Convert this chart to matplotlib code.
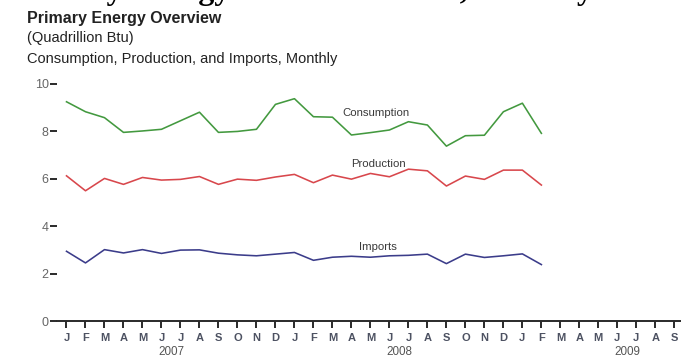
import matplotlib
matplotlib.use("Agg")
import matplotlib.pyplot as plt
import matplotlib.transforms as mtransforms

plt.rcParams['font.family'] = ['Liberation Sans', 'DejaVu Sans']

# ---- data (Quadrillion Btu), Jan 2007 .. Feb 2009 ----
consumption = [9.25, 8.83, 8.58, 7.96, 8.02, 8.09, 8.45, 8.81, 7.96, 8.00, 8.09, 9.14,
               9.38, 8.62, 8.60, 7.85, 7.95, 8.06, 8.41, 8.27, 7.38, 7.82, 7.84, 8.83,
               9.19, 7.92]
production = [6.13, 5.50, 6.02, 5.77, 6.06, 5.95, 5.98, 6.10, 5.77, 5.99, 5.94, 6.08,
              6.19, 5.84, 6.16, 5.99, 6.23, 6.09, 6.41, 6.34, 5.70, 6.12, 5.98, 6.37,
              6.37, 5.74]
imports = [2.95, 2.46, 3.02, 2.88, 3.02, 2.86, 3.00, 3.01, 2.87, 2.80, 2.76, 2.83,
           2.90, 2.57, 2.70, 2.74, 2.70, 2.76, 2.78, 2.83, 2.43, 2.83, 2.69, 2.76,
           2.84, 2.39]
month_letters = ['J', 'F', 'M', 'A', 'M', 'J', 'J', 'A', 'S', 'O', 'N', 'D']
years = ['2007', '2008', '2009']
tick_months = (month_letters * 3)[:33]
yticks = [0, 2, 4, 6, 8, 10]
series_names = ['Consumption', 'Production', 'Imports']

W, H = 681, 358
fig = plt.figure(figsize=(W / 100, H / 100), dpi=100)
y0_px, top_px = 321.3, 72.1
ax = fig.add_axes([57 / W, (H - y0_px) / H, (W - 57) / W, (y0_px - top_px) / H])

x = list(range(len(consumption)))
c_green = '#43993f'
c_red = '#d8474c'
c_navy = '#3b3c8a'
ax.plot(x, consumption, color=c_green, lw=1.15)
ax.plot(x, production, color=c_red, lw=1.15)
ax.plot(x, imports, color=c_navy, lw=1.15)

ax.set_xlim(-0.5, 32.35)
ax.set_ylim(0, 10.5)

for s in ['top', 'right', 'left']:
    ax.spines[s].set_visible(False)
ax.spines['bottom'].set_color('#2a2a2a')
ax.spines['bottom'].set_linewidth(1.4)

ax.set_yticks(yticks)
ax.set_yticklabels([str(v) for v in yticks])
ax.tick_params(axis='y', length=5, width=1.4, color='#2a2a2a', pad=1,
               labelsize=9, labelcolor='#666666')
ax.set_xticks(range(len(tick_months)))
ax.set_xticklabels(tick_months, fontweight='bold')
ax.tick_params(axis='x', direction='out', length=5, width=1.4, color='#2a2a2a',
               pad=3.5, labelsize=8, labelcolor='#4d5262')

trans = mtransforms.blended_transform_factory(ax.transData, fig.transFigure)
for i, yr in enumerate(years):
    ax.text(i * 12 + 5.5, 1 - 352 / H, yr, transform=trans, ha='center', va='center',
            fontsize=8.4, color='#555555')

# series labels
ax.text(16.3, 8.77, series_names[0], ha='center', va='center', fontsize=8.2, color='#3a3a3a')
ax.text(16.4, 6.61, series_names[1], ha='center', va='center', fontsize=8.2, color='#3a3a3a')
ax.text(16.4, 3.12, series_names[2], ha='center', va='center', fontsize=8.2, color='#3a3a3a')

# cropped page heading (only descenders visible at the top edge)
fig.text(6.6 / W, 1 + 1.3 / H, 'Primary Energy Overview Trend, Monthly',
         family=['Liberation Serif', 'DejaVu Serif'], fontweight='bold', fontsize=23,
         color='black', va='baseline', ha='left')

# titles
fig.text(27 / W, 1 - 18.5 / H, 'Primary Energy Overview', fontsize=11.5, fontweight='bold',
         color='#222222', va='center', ha='left')
fig.text(27 / W, 1 - 38 / H, '(Quadrillion Btu)', fontsize=10.5, color='#222222',
         va='center', ha='left')
fig.text(27 / W, 1 - 58.5 / H, 'Consumption, Production, and Imports, Monthly', fontsize=10.5,
         color='#222222', va='center', ha='left')

fig.savefig('out.png', dpi=100)
